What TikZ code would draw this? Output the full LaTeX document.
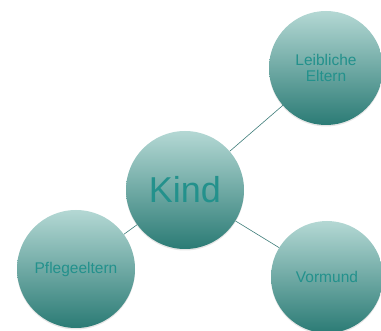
\documentclass[tikz,border=0pt]{standalone}
\usepackage{fontspec}
\setmainfont{Liberation Sans}
\usetikzlibrary{shadows}
\definecolor{tealtop}{HTML}{B4D8D4}
\definecolor{tealbot}{HTML}{2B7B75}
\definecolor{tealtext}{HTML}{23918C}
\definecolor{tealline}{HTML}{3E7C79}
\tikzstyle{person}=[circle,top color=tealtop,bottom color=tealbot,minimum size=114pt,inner sep=0pt,text=tealtext,font=\fontsize{15.5}{16}\selectfont,align=center,drop shadow={opacity=0.2,shadow xshift=0pt,shadow yshift=-1.5pt}]
\tikzstyle{link}=[tealline,line width=0.6pt]

\begin{document}
\begin{tikzpicture}[x=1pt,y=-1pt]
\useasboundingbox (0,0) rectangle (381,331);
\node[person,minimum size=118pt,font=\fontsize{36}{40}\selectfont] (kind) at (185,190) {Kind};
\node[person] (leiblich) at (326,68) {Leibliche\\Eltern};
\node[person,minimum size=118pt] (pflege) at (76,269) {Pflegeeltern};
\node[person,minimum size=112pt] (vormund) at (327,277) {Vormund};
\draw[link] (kind) -- (leiblich);
\draw[link] (kind) -- (pflege);
\draw[link] (kind) -- (vormund);
\end{tikzpicture}
\end{document}
